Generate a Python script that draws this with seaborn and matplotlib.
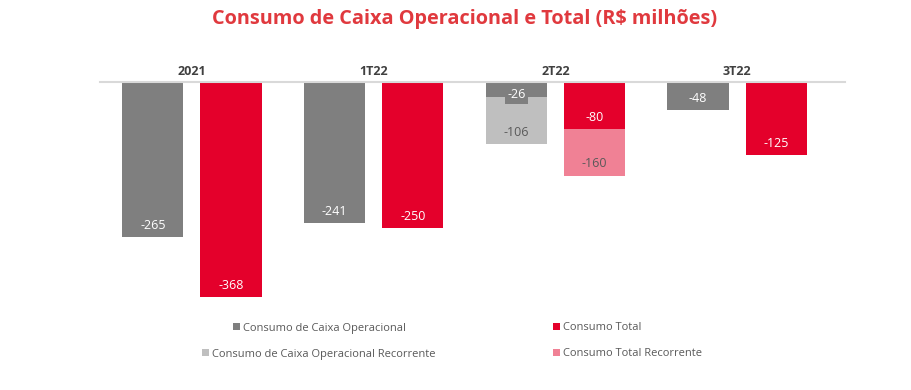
import pandas as pd
import numpy as np
import matplotlib.pyplot as plt
import seaborn as sns
from matplotlib.patches import Patch

periodos = ['2021', '1T22', '2T22', '3T22']
caixa_operacional = [-265, -241, -26, -48]
consumo_total = [-368, -250, -80, -125]
# recorrente só existe no 2T22
periodos_rec = ['2T22']
caixa_operacional_rec = [-106]
consumo_total_rec = [-160]

series = ['Consumo de Caixa Operacional', 'Consumo Total']
series_rec = ['Consumo de Caixa Operacional Recorrente', 'Consumo Total Recorrente']

cinza = '#7F7F7F'
vermelho = '#E4002B'
cinza_claro = '#BFBFBF'
rosa = '#F08195'
texto = '#595959'

df = pd.DataFrame({
    'periodo': periodos * 2,
    'serie': [series[0]] * 4 + [series[1]] * 4,
    'valor': caixa_operacional + consumo_total,
})
df_rec = pd.DataFrame({
    'periodo': periodos_rec * 2,
    'serie': [series[0]] * len(periodos_rec) + [series[1]] * len(periodos_rec),
    'valor': caixa_operacional_rec + consumo_total_rec,
})

sns.set_style('white')
plt.rcParams['font.family'] = ['Open Sans', 'DejaVu Sans']

fig = plt.figure(figsize=(9.11, 3.90), dpi=100)
ax = fig.add_axes([100 / 911, 1 - 310 / 390, 745 / 911, 228 / 390])

largura = 0.862
folga = 0.218
# barras recorrentes ficam atrás
sns.barplot(data=df_rec, x='periodo', y='valor', hue='serie', order=periodos,
            hue_order=series, palette=[cinza_claro, rosa], width=largura, gap=folga,
            saturation=1, linewidth=0, errorbar=None, ax=ax, legend=False, zorder=1)
sns.barplot(data=df, x='periodo', y='valor', hue='serie', order=periodos,
            hue_order=series, palette=[cinza, vermelho], width=largura, gap=folga,
            saturation=1, linewidth=0, errorbar=None, ax=ax, legend=False, zorder=2)

desloc = largura / 4

def rotulo(x, v, cor, fundo=None):
    y = v + 20 if abs(v) > 40 else v + 4
    kw = {}
    if fundo is not None and abs(v) <= 40:
        kw['bbox'] = dict(boxstyle='square,pad=0.2', fc=fundo, ec='none')
    ax.text(x, y, f'{v}', ha='center', va='center', fontsize=9, color=cor, zorder=5, **kw)

for i, p in enumerate(periodos):
    rotulo(i - desloc, caixa_operacional[i], 'white', cinza)
    rotulo(i + desloc, consumo_total[i], 'white', vermelho)
for j, p in enumerate(periodos_rec):
    i = periodos.index(p)
    rotulo(i - desloc, caixa_operacional_rec[j], texto)
    rotulo(i + desloc, consumo_total_rec[j], texto)

ax.set_xlim(-0.506, 3.594)
ax.set_ylim(-390, 0)
ax.set_xlabel('')
ax.set_ylabel('')
ax.set_yticks([])
ax.xaxis.set_ticks_position('top')
ax.tick_params(axis='x', length=0, pad=3, labelsize=9, labelcolor='#404040')
for t in ax.get_xticklabels():
    t.set_fontweight('bold')
for s in ['left', 'right', 'bottom']:
    ax.spines[s].set_visible(False)
ax.spines['top'].set_color('#D9D9D9')
ax.spines['top'].set_linewidth(1.5)
ax.patch.set_alpha(0)

fig.text(465 / 911, 1 - 19 / 390, 'Consumo de Caixa Operacional e Total (R$ milhões)',
         ha='center', va='center', fontsize=14.3, fontweight='bold', color='#E0393E')

itens = [
    (series[0], cinza, 233, 328),
    (series[1], vermelho, 553, 328),
    (series_rec[0], cinza_claro, 202, 354),
    (series_rec[1], rosa, 553, 354),
]
for nome, cor, px, py in itens:
    fig.legend(handles=[Patch(facecolor=cor, edgecolor='none', label=nome)],
               loc='center left', bbox_to_anchor=(px / 911, 1 - py / 390),
               frameon=False, fontsize=8, labelcolor=texto, handlelength=0.6,
               handleheight=0.6, handletextpad=0.3, borderpad=0, borderaxespad=0)

fig.savefig('out.png', dpi=100)
